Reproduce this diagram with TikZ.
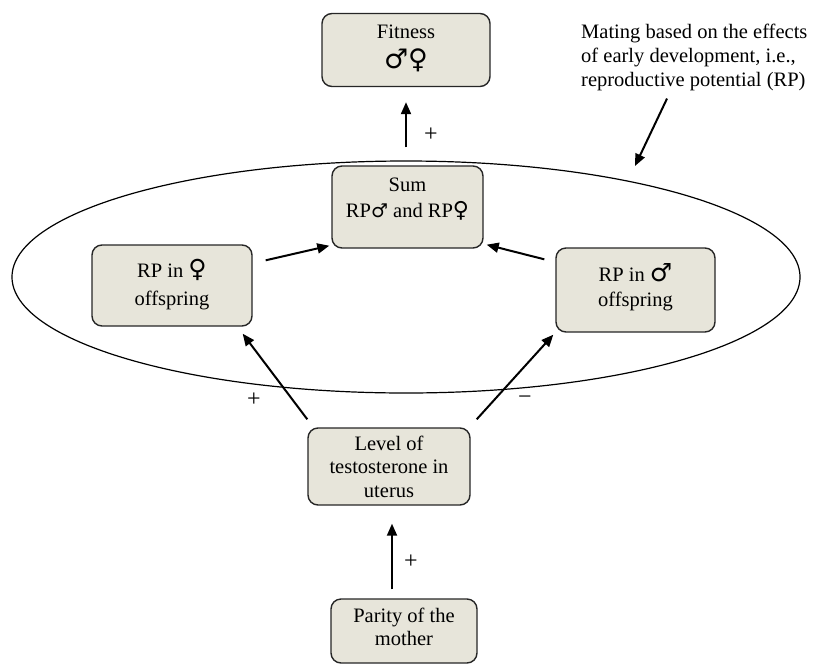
\documentclass[tikz,border=0pt]{standalone}
\usepackage{fontspec}
\setmainfont{Liberation Serif}
\newfontfamily\symf{DejaVu Sans}
\usetikzlibrary{arrows.meta,calc}
\definecolor{boxfill}{RGB}{231,229,218}
\newcommand{\gsym}[2]{{\symf\fontsize{#1}{#1}\selectfont #2}}
\begin{document}
\begin{tikzpicture}[x=1pt,y=-1pt,
  box/.style={draw=black!85, line width=1.4pt, fill=boxfill, rounded corners=10pt,
    align=center, inner sep=0pt, font=\fontsize{20.5}{23.5}\selectfont},
  arr/.style={line width=2pt, -{Triangle[length=12pt,width=10pt]}},
  lbl/.style={font=\fontsize{24}{24}\selectfont, inner sep=0pt}]
\useasboundingbox (0,0) rectangle (819,670);

% ellipse
\draw[line width=1.2pt] (406,277) ellipse [x radius=394, y radius=116];

% boxes
\node[box, minimum width=168pt, minimum height=73pt] (fit) at (406,50)
  {Fitness\\[7pt]\gsym{27}{♂♀}\\[-17pt]\mbox{}};
\node[box, minimum width=151pt, minimum height=82pt] (sum) at (407.5,207)
  {Sum\\[3pt]RP\gsym{19}{♂} and RP\gsym{22}{♀}\\[-5pt]\mbox{}};
\node[box, minimum width=160pt, minimum height=81pt] (rpf) at (172,285.5)
  {RP in \gsym{25}{♀}\\[4pt]offspring\\[-17pt]\mbox{}};
\node[box, minimum width=159pt, minimum height=84pt] (rpm) at (635.5,290)
  {RP in \gsym{25}{♂}\\[2pt]offspring\\[-13pt]\mbox{}};
\node[box, minimum width=162pt, minimum height=77pt] (lev) at (389,466.5)
  {Level of\\testosterone in\\uterus};
\node[box, minimum width=146pt, minimum height=64pt] (par) at (404,631)
  {Parity of the\\mother\\[-15pt]\mbox{}};

% annotation
\node[anchor=west, align=left, inner sep=0pt, font=\fontsize{20.5}{24}\selectfont] (ann) at (581,57)
  {Mating based on the effects\\of early development, i.e.,\\reproductive potential (RP)};
\coordinate (tip) at (635,166);

% arrows
\draw[arr, shorten <=18pt, shorten >=15pt] (sum.north -| fit.south) -- (fit.south);
\draw[arr, shorten <=9pt, shorten >=18pt] (par.north -| 392,0) -- (lev.south -| 392,0);
\draw[arr] ($(lev.north west)+(0,-8)$) -- ($(rpf.south east)+(-10,7)$);
\draw[arr] ($(lev.north east)+(6,-8)$) -- ($(rpm.south west)+(-2,2)$);
\draw[arr] ($(rpf.north east)+(13,16)$) -- ($(sum.south west)+(-2,-3)$);
\draw[arr] ($(rpm.north west)+(-11,12)$) -- ($(sum.south east)+(3,-4)$);
\draw[arr] ($(ann.south west)+(86,8)$) -- (tip);

% labels
\node[lbl] (p1) at (431,135) {+};
\node[lbl] (p2) at (254,400) {+};
\node[lbl] (m1) at (525,400) {−};
\node[lbl] (p3) at (411,562) {+};
\end{tikzpicture}
\end{document}
